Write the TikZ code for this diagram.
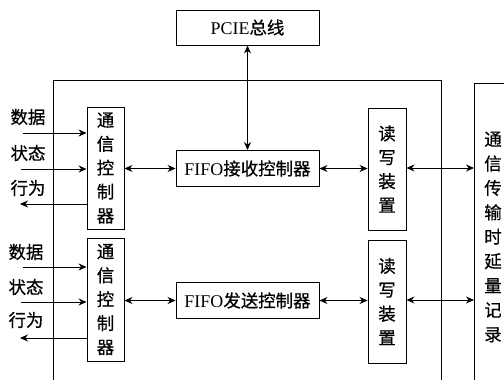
\documentclass[tikz,border=0pt]{standalone}
\usepackage{fontspec}
\setmainfont{Liberation Serif}
\newfontfamily\cjk[FakeBold=0.6]{Noto Sans CJK SC}
\usetikzlibrary{arrows.meta}
\begin{document}
\begin{tikzpicture}[x=1bp,y=-1bp,
  line width=0.9bp,
  font=\fontsize{18}{24}\selectfont,
  box/.style={draw, inner sep=0pt, align=center},
  vbox/.style={box, font=\cjk\fontsize{17.5}{24}\selectfont},
  lbl/.style={inner sep=0pt, font=\cjk\fontsize{17.5}{24.5}\selectfont},
  arr/.style={-{Stealth[length=8bp,width=7bp]}},
  darr/.style={{Stealth[length=8bp,width=7bp]}-{Stealth[length=8bp,width=7bp]}}]
\useasboundingbox (0,0) rectangle (504,379);
\clip (0,0) rectangle (504,379);
% outer box
\draw (53,400) -- (53,80.5) -- (441,80.5) -- (441,400);
% right box
\draw (520,83) -- (474,83) -- (474,400);
\node[lbl, align=center] (rec) at (493,237) {通\\信\\传\\输\\时\\延\\量\\记\\录};
\coordinate (recL1) at (474,168);
\coordinate (recL2) at (474,300);
% PCIE
\node[box, minimum width=143bp, minimum height=35bp] (pcie) at (247.5,27.5) {PCIE{\cjk\fontsize{17.5}{24}\selectfont 总线}};
% FIFO
\node[box, minimum width=143bp, minimum height=36bp] (f1) at (247.5,168.5) {FIFO{\cjk\fontsize{17.5}{24}\selectfont 接收控制器}};
\node[box, minimum width=143bp, minimum height=36bp] (f2) at (247.5,300.5) {FIFO{\cjk\fontsize{17.5}{24}\selectfont 发送控制器}};
% comm controllers
\node[vbox, minimum width=37bp, minimum height=122bp] (c1) at (105.5,168) {通\\信\\控\\制\\器};
\node[vbox, minimum width=37bp, minimum height=123bp] (c2) at (105.5,299.5) {通\\信\\控\\制\\器};
% read/write
\node[vbox, minimum width=38bp, minimum height=122bp] (r1) at (387,169) {读\\写\\装\\置};
\node[vbox, minimum width=38bp, minimum height=123bp] (r2) at (387,301.5) {读\\写\\装\\置};
% left labels
\node[lbl] (d1) at (28,117) {数据};
\node[lbl] (s1) at (28,153) {状态};
\node[lbl] (b1) at (28,188) {行为};
\node[lbl] (d2) at (26,252) {数据};
\node[lbl] (s2) at (26,287) {状态};
\node[lbl] (b2) at (26,320) {行为};
\coordinate (di1) at (23,133);
\coordinate (si1) at (21,169);
\coordinate (bo1) at (20,204);
\coordinate (di2) at (23,267);
\coordinate (si2) at (21,302);
\coordinate (bo2) at (20,338);
\draw[arr] (di1) -- (di1 -| c1.west);
\draw[arr] (si1) -- (si1 -| c1.west);
\draw[arr] (bo1 -| c1.west) -- (bo1);
\draw[arr] (di2) -- (di2 -| c2.west);
\draw[arr] (si2) -- (si2 -| c2.west);
\draw[arr] (bo2 -| c2.west) -- (bo2);
% connections
\draw[darr] (pcie.south) -- (f1.north);
\draw[darr] (c1.east |- f1.west) -- (f1.west);
\draw[darr] (f1.east) -- (r1.west |- f1.east);
\draw[darr] (r1.east |- recL1) -- (recL1);
\draw[darr] (c2.east |- f2.west) -- (f2.west);
\draw[darr] (f2.east) -- (r2.west |- f2.east);
\draw[darr] (r2.east |- recL2) -- (recL2);
\end{tikzpicture}
\end{document}
